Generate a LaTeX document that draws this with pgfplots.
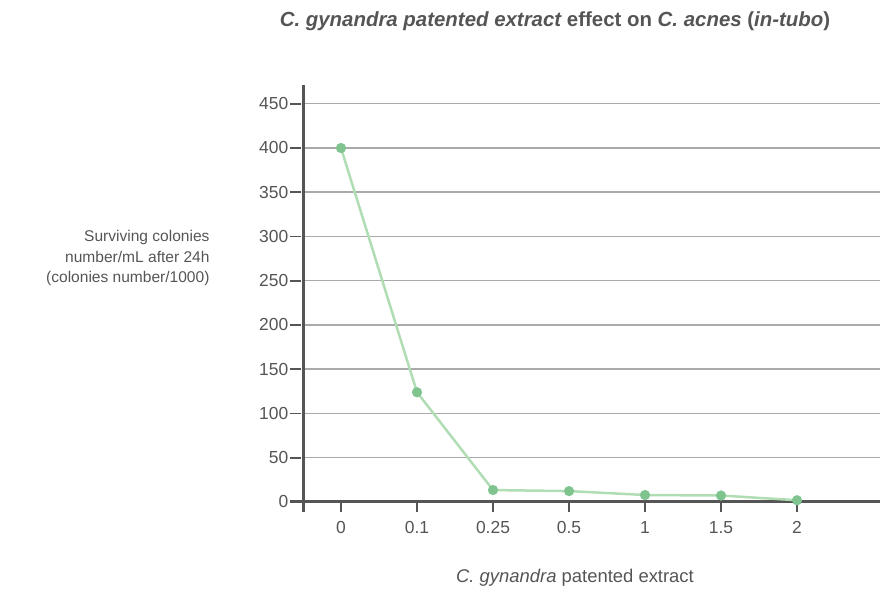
\documentclass[border=0pt]{standalone}
\usepackage{pgfplots}
\pgfplotsset{compat=1.18}
\usepackage{fontspec}
\setmainfont{Liberation Sans}
\definecolor{txt}{HTML}{555555}
\definecolor{axc}{HTML}{555555}
\definecolor{gridc}{HTML}{AAAAAA}
\definecolor{lnc}{HTML}{B0DDB4}
\definecolor{mkc}{HTML}{7FC48E}
\begin{document}
\begin{tikzpicture}[x=1bp,y=1bp]
\useasboundingbox (0,0) rectangle (880,592);
\begin{axis}[
  at={(290bp,80bp)}, anchor=south west,
  scale only axis, width=590bp, height=427bp,
  xmin=-0.671, xmax=7.092, ymin=-11.3, ymax=471.2,
  axis x line*=bottom, axis y line*=left,
  axis line style={draw=none},
  xtick={0,1,2,3,4,5,6},
  xticklabels={0,0.1,0.25,0.5,1,1.5,2},
  ytick={0,50,100,150,200,250,300,350,400,450},
  tick align=inside,
  major tick length=11bp,
  every tick/.style={draw=axc, line width=1.6bp},
  /pgf/number format/assume math mode=true,
  ticklabel style={font=\fontsize{17.5}{19}\selectfont, text=txt},
  xticklabel style={yshift=-6bp},
  yticklabel style={anchor=east, xshift=0bp, inner sep=1.5bp},
  clip=false,
]
\foreach \y in {50,100,...,450} {
  \edef\tmp{\noexpand\draw[gridc, line width=1.5bp] (axis cs:-0.5,\y) -- (axis cs:7.092,\y);}
  \tmp
}
\draw[axc, line width=3bp] (axis cs:-0.671,0) -- (axis cs:7.092,0);
\draw[axc, line width=3bp] (axis cs:-0.5,-11.3) -- (axis cs:-0.5,471.2);
\addplot[lnc, line width=2.5bp, mark=*, mark size=5bp,
  mark options={fill=mkc, draw=mkc, line width=0.1bp}] coordinates {
  (0,400) (1,124) (2,13.5) (3,12.3) (4,7.9) (5,7.3) (6,2)
};
\end{axis}
\node[text=txt, font=\fontsize{20.5}{24}\selectfont\bfseries] at (555,571)
  {\itshape C. gynandra patented extract\upshape{} effect on \itshape C. acnes\upshape{} (\itshape in-tubo\upshape)};
\node[text=txt, font=\fontsize{15.6}{21}\selectfont, align=right, anchor=east] at (213,334)
  {Surviving colonies\\number/mL after 24h\\(colonies number/1000)};
\node[text=txt, font=\fontsize{18.5}{20}\selectfont] at (575,14)
  {\itshape C. gynandra\upshape{} patented extract};
\end{tikzpicture}
\end{document}
